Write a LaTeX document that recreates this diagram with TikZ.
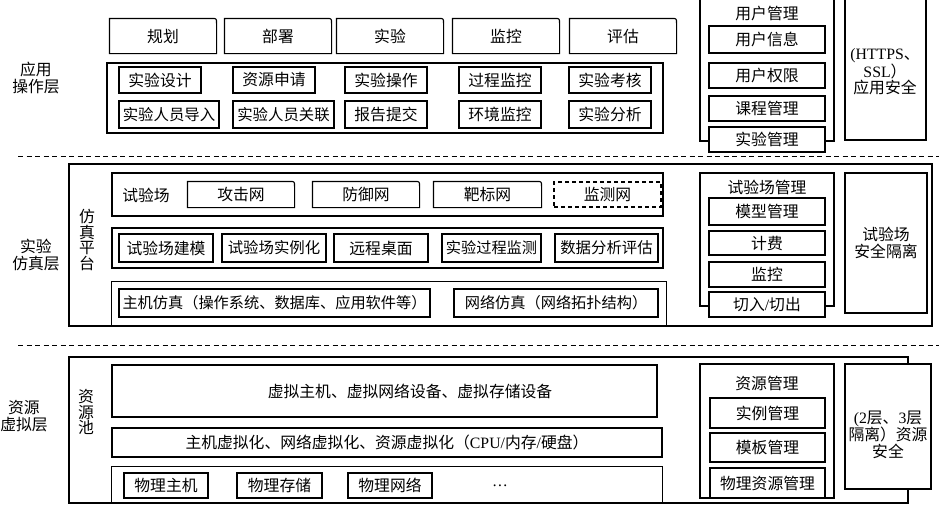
\documentclass[tikz,border=0pt]{standalone}
\usepackage{fontspec}
\setmainfont{Liberation Serif}
\newfontfamily\cjk{Noto Sans CJK SC}
\newcommand\lt[1]{{\rmfamily #1}}
\tikzset{
  ln/.style={line width=1.1pt, draw=black},
  bx/.style={ln, inner sep=0pt, align=center, font=\cjk\fontsize{15.8}{17.5}\selectfont},
  lbl/.style={inner sep=0pt, align=center, font=\cjk\fontsize{15.8}{17.5}\selectfont},
  vlbl/.style={inner sep=0pt, align=center, font=\cjk\fontsize{15.8}{15.8}\selectfont},
  dashline/.style={line width=1pt, dash pattern=on 5pt off 3.5pt},
}
% #1 opts, #2 name, #3 x1, #4 y1, #5 x2, #6 y2, #7 text
\newcommand\bx[7][]{\node[bx,#1,minimum width={(#5-#3)*1pt},minimum height={(#6-#4)*1pt}] (#2) at ({(#3+#5)/2},{(#4+#6)/2}) {#7};}
\newcommand\tabbox[6]{\bx[draw=none]{#1}{#2}{#3}{#4}{#5}{#6}
  \draw[ln] (#1.south west) -- (#1.north west) -- ([xshift=-5pt]#1.north east) .. controls (#1.north east) .. ([yshift=-5pt]#1.north east) -- (#1.south east) -- cycle;}
\newcommand\openbox[5]{\bx[draw=none]{#1}{#2}{#3}{#4}{#5}{}
  \draw[ln] (#1.south west) -- (#1.north west) -- (#1.north east) -- (#1.south east);}
\begin{document}
\begin{tikzpicture}[x=1pt,y=-1pt]
\useasboundingbox (0,0) rectangle (939,504);
\clip (0,0) rectangle (939,504);
\fill[white] (0,0) rectangle (939,504);

% ===== application layer =====
\node[lbl] (lA) at (36,78) {应用\\操作层};
\tabbox{t1}{110}{19}{216}{53}{规划}
\tabbox{t2}{225}{19}{331}{53}{部署}
\tabbox{t3}{337}{19}{443}{53}{实验}
\tabbox{t4}{453}{19}{559}{53}{监控}
\tabbox{t5}{570}{19}{676}{53}{评估}
\bx{fA}{107}{63}{663}{133}{}
\bx{a1}{119}{67}{201}{93}{实验设计}
\bx{a2}{233}{67}{315}{93}{资源申请}
\bx{a3}{345}{67}{427}{93}{实验操作}
\bx{a4}{459}{67}{541}{93}{过程监控}
\bx{a5}{569}{67}{651}{93}{实验考核}
\bx[font=\cjk\fontsize{15.4}{17}\selectfont]{b1}{119}{101}{219}{128}{实验人员导入}
\bx[font=\cjk\fontsize{15.4}{17}\selectfont]{b2}{233}{101}{334}{128}{实验人员关联}
\bx{b3}{345}{101}{427}{128}{报告提交}
\bx{b4}{459}{101}{541}{128}{环境监控}
\bx{b5}{569}{101}{651}{128}{实验分析}
\bx{um}{700}{-5}{834}{141}{}
\node[lbl] (umt) at (767,14) {用户管理};
\bx{u1}{709}{26}{825}{53}{用户信息}
\bx{u2}{709}{63}{825}{88}{用户权限}
\bx{u3}{709}{96}{825}{121}{课程管理}
\bx[fill=white]{u4}{709}{127}{825}{152}{实验管理}
\bx{sa}{845}{-5}{926}{140}{}
\node[lbl, font=\cjk\fontsize{15.8}{15.8}\selectfont] (sat) at (885,72) {\lt{(HTTPS}、\\\lt{SSL}）\\应用安全};

\coordinate (d1a) at (18,156); \coordinate (d1b) at (939,156);
\draw[dashline] (d1a) -- (d1b);

% ===== simulation layer =====
\node[lbl] (lB) at (36,255) {实验\\仿真层};
\bx{fB}{69}{164}{932}{326}{}
\node[vlbl] (fzpt) at (87,240) {仿\\真\\平\\台};
\bx{p1}{112}{173}{663}{216}{}
\node[lbl] (syc) at (146,195) {试验场};
\tabbox{n1}{188}{182}{294}{207}{攻击网}
\tabbox{n2}{313}{182}{419}{207}{防御网}
\tabbox{n3}{434}{182}{541}{207}{靶标网}
\bx[dashed, dash pattern=on 4pt off 3pt]{n4}{554}{182}{661}{207}{监测网}
\bx{p2}{112}{228}{663}{268}{}
\bx{c1}{119}{234}{213}{262}{试验场建模}
\bx[font=\cjk\fontsize{15.4}{17}\selectfont]{c2}{222}{234}{326}{262}{试验场实例化}
\bx{c3}{334}{234}{428}{262}{远程桌面}
\bx[font=\cjk\fontsize{15.2}{17}\selectfont]{c4}{442}{234}{541}{262}{实验过程监测}
\bx[font=\cjk\fontsize{15.4}{17}\selectfont]{c5}{555}{234}{658}{262}{数据分析评估}
\openbox{p3}{112}{282}{666}{326}
\bx[font=\cjk\fontsize{15.2}{17}\selectfont]{h1}{119}{289}{430}{317}{主机仿真（操作系统、数据库、应用软件等）}
\bx[font=\cjk\fontsize{15.2}{17}\selectfont]{h2}{454}{289}{658}{317}{网络仿真（网络拓扑结构）}
\bx{tm}{700}{173}{834}{306}{}
\node[lbl] (tmt) at (767,187) {试验场管理};
\bx{m1}{709}{198}{825}{225}{模型管理}
\bx{m2}{709}{231}{825}{255}{计费}
\bx{m3}{709}{262}{825}{287}{监控}
\bx[fill=white]{m4}{709}{292}{825}{317}{切入\lt{/}切出}
\bx{sb}{845}{173}{927}{313}{试验场\\安全隔离}

\coordinate (d2a) at (18,345); \coordinate (d2b) at (939,345);
\draw[dashline] (d2a) -- (d2b);

% ===== resource layer =====
\node[lbl] (lC) at (24,416) {资源\\虚拟层};
\bx{fC}{69}{357}{908}{503}{}
\node[vlbl] (zyc) at (86,412) {资\\源\\池};
\bx{r1}{112}{365}{657}{417}{}
\node[lbl] (r1t) at (410,391) {虚拟主机、虚拟网络设备、虚拟存储设备};
\bx{r2}{112}{428}{662}{457}{主机虚拟化、网络虚拟化、资源虚拟化（\lt{CPU/}内存\lt{/}硬盘）}
\openbox{r3}{112}{467}{662}{503}
\bx{w1}{124}{473}{208}{498}{物理主机}
\bx{w2}{237}{473}{322}{498}{物理存储}
\bx{w3}{348}{473}{432}{498}{物理网络}
\node[lbl] (dots) at (500,486) {\lt{…}};
\bx{rm}{700}{364}{834}{498}{}
\node[lbl] (rmt) at (767,383) {资源管理};
\bx{k1}{710}{398}{825}{428}{实例管理}
\bx{k2}{710}{433}{825}{462}{模板管理}
\bx{k3}{710}{468}{825}{498}{物理资源管理}
\bx[fill=white]{sc}{845}{364}{931}{489}{}
\node[lbl, font=\cjk\fontsize{15.8}{17}\selectfont] (sct) at (888,435) {\lt{(2}层、\lt{3}层\\隔离）资源\\安全};
\end{tikzpicture}
\end{document}
